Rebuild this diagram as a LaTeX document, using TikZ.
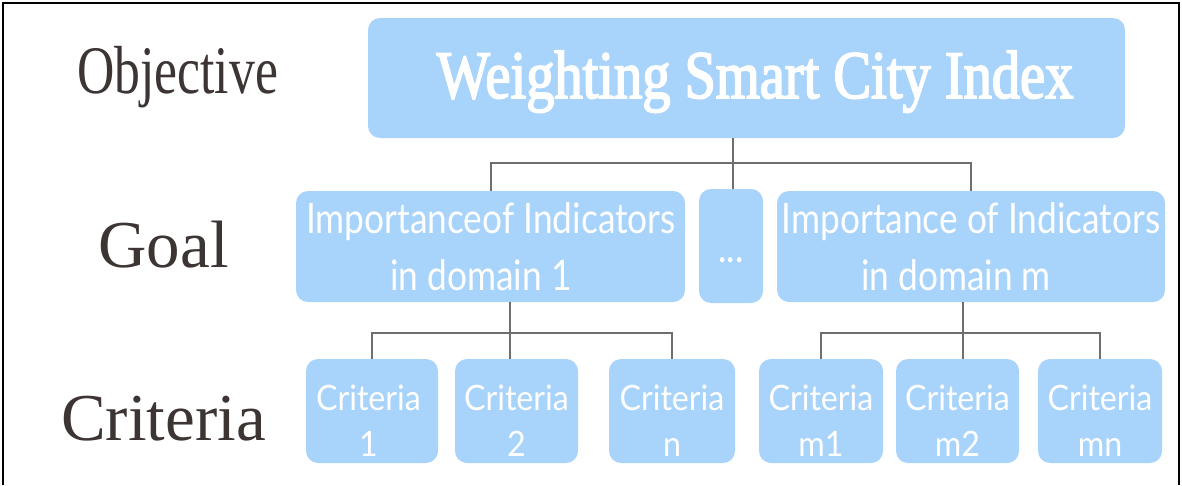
\documentclass[tikz,border=0pt]{standalone}
\usepackage{fontspec}
\setmainfont{Liberation Serif}
\newfontfamily\levelfont{Liberation Serif}
\newfontfamily\narrowserif[FakeStretch=0.76]{Liberation Serif}
\newfontfamily\titlefont[FakeStretch=0.83,FakeBold=2.5]{Liberation Serif}
\newfontfamily\goalfont[FakeStretch=0.84]{Lato}
\newfontfamily\critfont[FakeStretch=0.92]{Lato}
\definecolor{boxblue}{HTML}{A8D3FA}
\definecolor{labelink}{HTML}{3D3434}
\definecolor{linkgray}{HTML}{6E6E6E}
\begin{document}
\begin{tikzpicture}[x=1pt,y=-1pt,
  box/.style={fill=boxblue, draw=none, rounded corners=12pt, inner sep=0pt},
  link/.style={draw=linkgray, line width=2pt},
  level/.style={text=labelink, anchor=base, inner sep=0pt},
  goaltext/.style={text=white, anchor=base, inner sep=0pt, font=\goalfont\fontsize{42}{42}\selectfont},
  crittext/.style={text=white, anchor=base, inner sep=0pt, font=\critfont\fontsize{35}{35}\selectfont}]
\useasboundingbox (0,0) rectangle (1182,485);

% hierarchy boxes
\node[box, minimum width=757pt, minimum height=120pt] (top) at (746.5,78) {};
\node[box, minimum width=389pt, minimum height=111pt] (g1) at (490.5,246.5) {};
\node[box, minimum width=64pt, minimum height=114pt] (dots) at (731,246) {};
\node[box, minimum width=388pt, minimum height=111pt] (gm) at (971,246.5) {};
\node[box, minimum width=132pt, minimum height=104pt] (c1) at (372,411) {};
\node[box, minimum width=123pt, minimum height=104pt] (c2) at (516.5,411) {};
\node[box, minimum width=126pt, minimum height=104pt] (cn) at (672,411) {};
\node[box, minimum width=124pt, minimum height=104pt] (cm1) at (821,411) {};
\node[box, minimum width=123pt, minimum height=104pt] (cm2) at (957.5,411) {};
\node[box, minimum width=124pt, minimum height=104pt] (cmn) at (1100,411) {};

% junctions of the tree connectors
\coordinate (j1) at (733,163);
\coordinate (j2) at (510,333);
\coordinate (j3) at (963,333);

% connectors
\draw[link] (top.south -| j1) -- (dots.north -| j1);
\draw[link] (g1.north) |- (j1) -| (gm.north);
\draw[link] (g1.south -| j2) -- (j2);
\draw[link] (c1.north) |- (j2) -| (cn.north);
\draw[link] (j2) -- (c2.north -| j2);
\draw[link] (gm.south -| j3) -- (j3);
\draw[link] (cm1.north) |- (j3) -| (cmn.north);
\draw[link] (j3) -- (cm2.north -| j3);

% level labels
\node[level, font=\narrowserif\fontsize{68}{68}\selectfont] (lobj) at (177.5,93) {Objective};
\node[level, font=\levelfont\fontsize{67}{67}\selectfont] (lgoal) at (163.5,267) {Goal};
\node[level, font=\levelfont\fontsize{67}{67}\selectfont] (lcrit) at (163.5,440) {Criteria};

% box texts
\node[anchor=base, inner sep=0pt, text=white, font=\titlefont\fontsize{68}{68}\selectfont] (ttop) at (755,98) {Weighting Smart City Index};
\node[goaltext] (tg1a) at (491,233) {Importanceof Indicators};
\node[goaltext] (tg1b) at (481,290) {in domain 1};
\node[goaltext] (tdots) at (731,262) {...};
\node[goaltext] (tgma) at (971,233) {Importance of Indicators};
\node[goaltext] (tgmb) at (956,290) {in domain m};
\node[crittext] (tc1a) at (368.5,410) {Criteria};
\node[crittext] (tc1b) at (368.5,456) {1};
\node[crittext] (tc2a) at (516.5,410) {Criteria};
\node[crittext] (tc2b) at (516.5,456) {2};
\node[crittext] (tcna) at (672,410) {Criteria};
\node[crittext] (tcnb) at (672,456) {n};
\node[crittext] (tcm1a) at (821,410) {Criteria};
\node[crittext] (tcm1b) at (821,456) {m1};
\node[crittext] (tcm2a) at (957.5,410) {Criteria};
\node[crittext] (tcm2b) at (957.5,456) {m2};
\node[crittext] (tcmna) at (1100,410) {Criteria};
\node[crittext] (tcmnb) at (1100,456) {mn};

% frame
\draw[black, line width=2.5pt] (3,485) -- (3,3) -- (1179,3) -- (1179,485);
\end{tikzpicture}
\end{document}
